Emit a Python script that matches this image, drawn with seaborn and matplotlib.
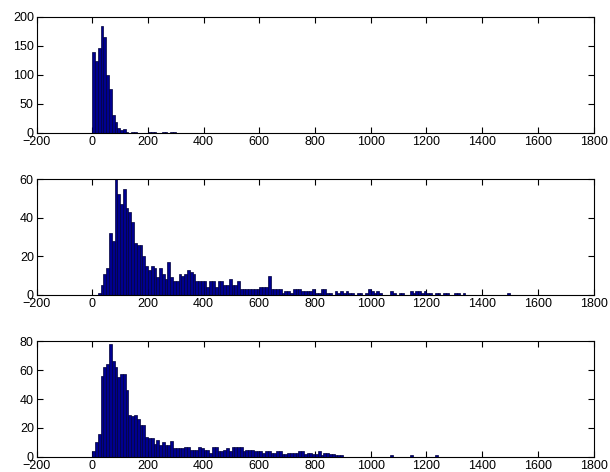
import numpy as np
import pandas as pd
import matplotlib
matplotlib.use('Agg')
import matplotlib.pyplot as plt
import seaborn as sns

# --- données (comptes par classe de largeur 10, à partir de 0) ---
bin_start = 0
bin_width = 10

p1_counts = [140, 124, 146, 184, 166, 100, 75, 30, 19, 9,
             5, 7, 1, 0, 2, 1, 0, 0, 0, 0,
             2, 2, 1, 0, 0, 1, 2, 0, 1, 2]

p2_counts = [0, 0, 1, 5, 11, 14, 32, 28, 60, 52,
             47, 55, 45, 43, 38, 27, 26, 26, 20, 15,
             13, 15, 14, 9, 14, 11, 8, 17, 9, 7,
             7, 11, 10, 11, 13, 12, 11, 7, 7, 7,
             7, 4, 7, 7, 4, 7, 7, 5, 5, 8,
             5, 5, 7, 3, 3, 3, 3, 3, 3, 3,
             4, 4, 4, 10, 3, 3, 3, 3, 1, 2,
             2, 1, 3, 3, 3, 2, 2, 2, 2, 3,
             1, 1, 3, 3, 1, 1, 0, 2, 1, 2,
             1, 2, 1, 1, 0, 1, 1, 0, 1, 3,
             2, 1, 2, 1, 0, 0, 0, 2, 1, 0,
             1, 1, 0, 0, 2, 1, 2, 2, 1, 2,
             1, 1, 0, 1, 1, 0, 1, 1, 0, 0,
             1, 1, 0, 1, 0, 0, 0, 0, 0, 0,
             0, 0, 0, 0, 0, 0, 0, 0, 0, 1]

p3_counts = [4, 10, 16, 56, 62, 64, 78, 66, 62, 55,
             57, 57, 46, 29, 28, 29, 26, 22, 22, 14,
             13, 13, 9, 12, 8, 10, 8, 8, 11, 6,
             6, 6, 6, 7, 7, 5, 5, 5, 7, 6,
             5, 5, 3, 7, 7, 4, 4, 5, 6, 4,
             7, 7, 7, 7, 4, 5, 5, 5, 4, 4,
             4, 3, 4, 4, 3, 3, 4, 4, 2, 2,
             3, 3, 3, 3, 4, 4, 2, 3, 3, 2,
             2, 4, 1, 3, 3, 2, 2, 1, 1, 1,
             0, 0, 0, 0, 0, 0, 0, 0, 0, 0,
             0, 0, 0, 0, 0, 0, 0, 1, 0, 0,
             0, 0, 0, 0, 1, 0, 0, 0, 0, 0,
             0, 0, 0, 1]

x_ticks = list(range(-200, 1801, 200))
y_ticks = [[0, 50, 100, 150, 200], [0, 20, 40, 60], [0, 20, 40, 60, 80]]

sns.set_style('ticks')
plt.rcParams['font.family'] = ['Liberation Sans', 'DejaVu Sans']

fig, axes = plt.subplots(3, 1, figsize=(6.1, 4.72), dpi=100)
fig.subplots_adjust(left=0.06, right=0.973, top=0.964, bottom=0.032, hspace=0.4)

for ax, counts, yt in zip(axes, [p1_counts, p2_counts, p3_counts], y_ticks):
    n = len(counts)
    centers = bin_start + bin_width * (np.arange(n) + 0.5)
    df = pd.DataFrame({'x': centers, 'n': counts})
    sns.histplot(data=df, x='x', weights='n', binwidth=bin_width,
                 binrange=(bin_start, bin_start + bin_width * n), ax=ax,
                 color='#00008F', edgecolor='#00003A', linewidth=0.5, alpha=1)
    ax.set_xlim(-200, 1800)
    ax.set_ylim(yt[0], yt[-1])
    ax.set_xticks(x_ticks)
    ax.set_yticks(yt)
    ax.set_xlabel('')
    ax.set_ylabel('')
    ax.tick_params(direction='in', top=True, right=True, length=4,
                   labelsize=9, width=0.8, pad=2, color='black', labelcolor='black')
    for s in ax.spines.values():
        s.set_visible(True)
        s.set_linewidth(0.8)
        s.set_color('black')

plt.savefig('out.png', dpi=100)
